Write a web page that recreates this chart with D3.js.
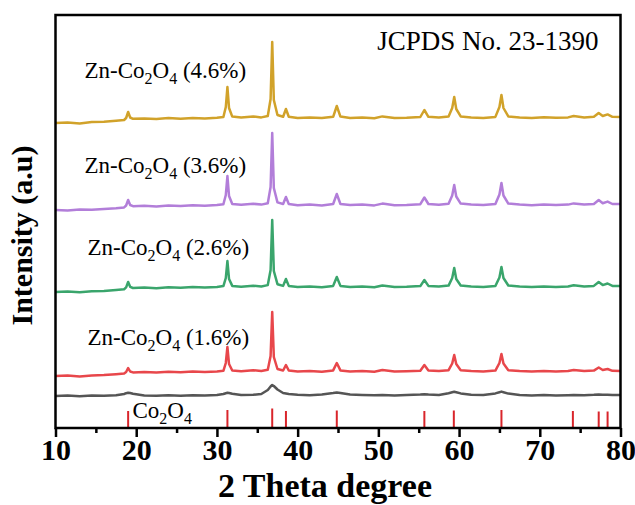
<!DOCTYPE html>
<html>
<head>
<meta charset="utf-8">
<script src="https://cdn.jsdelivr.net/npm/d3@7"></script>
<style>
body { margin: 0; background: #fff; }
svg { font-family: "Liberation Serif", "Times New Roman", serif; }
</style>
</head>
<body>
<svg width="635" height="505"></svg>
<script>
// shared 2-theta positions
var theta = [10, 11.5, 13, 14.5, 16, 17.5, 18.5, 18.75, 19.0, 19.25, 19.6, 21, 22.5, 24, 25.5, 27, 28.5, 30,
  30.8, 31.1, 31.3, 31.5, 31.9, 33, 34.5, 35.5, 36.3, 36.65, 36.85, 37.05, 37.5, 38.2, 38.55, 38.9,
  40, 41.5, 43, 44.4, 44.85, 45.3, 46.5, 48, 49.5, 50.5, 52, 53.5, 55.2, 55.7, 56.2, 57.5,
  58.7, 59.15, 59.4, 59.65, 60.2, 61.5, 63, 64.5, 65.0, 65.25, 65.5, 66.1, 67.5, 69, 70.5, 72, 73.5,
  74.2, 75.5, 76.7, 77.3, 77.8, 78.4, 79, 80];

// intensities (a.u.) relative to each pattern's own offset
var zn46 = [0, 0.6, -0.4, 0.9, 1.2, 2.2, 3, 5, 11, 5.5, 4.2, 4.6, 4, 4.9, 4.3, 5.1, 4.5, 5.3,
  6, 16, 36, 15, 6.4, 5.4, 6.6, 5.6, 7, 24, 81, 23, 8, 6.2, 14, 6.3,
  5, 5.6, 4.9, 6.2, 17, 6.4, 5.1, 5.6, 4.8, 6.6, 5, 5.3, 6, 13, 6.2, 5.6,
  6.6, 15, 26, 14, 6.6, 5.6, 5.1, 6.1, 16, 28, 15, 6.6, 5.6, 5, 5.7, 5.2, 5.6,
  7, 5.6, 6.2, 10, 7, 8.6, 6.2, 6];
var zn36 = [0, -0.5, 0.6, 0.2, 1.1, 1.8, 2.6, 4.5, 10, 5, 3.8, 4.3, 3.6, 4.5, 4.1, 4.8, 4.2, 5,
  5.8, 15, 34, 14, 6, 5.2, 6.2, 5.4, 6.8, 23, 77, 22, 7.6, 6, 13, 6,
  4.8, 5.4, 4.6, 6, 16, 6, 4.9, 5.4, 4.6, 6.4, 4.8, 5.1, 5.8, 12.5, 6, 5.3,
  6.3, 14.5, 25, 13.5, 6.4, 5.4, 4.9, 5.9, 15.5, 27, 14.5, 6.4, 5.4, 4.8, 5.5, 5, 5.4,
  6.6, 5.4, 6, 10, 6.8, 8.4, 6, 6];
var zn26 = [0, 0.5, -0.3, 0.7, 1, 2, 2.8, 4.6, 10, 5.2, 4, 4.4, 3.8, 4.7, 4.2, 4.9, 4.4, 5.1,
  5.9, 14, 31, 13, 6.1, 5.3, 6.3, 5.5, 6.9, 22, 72, 21, 7.8, 6.1, 13, 6.1,
  4.9, 5.5, 4.7, 6.1, 15, 6.1, 5, 5.5, 4.7, 6.5, 4.9, 5.2, 5.9, 12, 6.1, 5.4,
  6.4, 14, 24, 13, 6.5, 5.5, 5, 6, 14.5, 25, 14, 6.5, 5.5, 4.9, 5.6, 5.1, 5.5,
  6.8, 5.5, 6.1, 10, 6.9, 8.5, 6.1, 6];
var zn16 = [0, 0.4, -0.5, 0.6, 0.9, 1.8, 2.5, 4, 8, 4.5, 3.6, 4, 3.4, 4.2, 3.8, 4.5, 4, 4.6,
  5.2, 13, 29, 12, 5.5, 4.8, 5.8, 5, 6.2, 20, 64, 19, 7, 5.5, 11, 5.5,
  4.4, 5, 4.3, 5.6, 13, 5.6, 4.5, 5, 4.3, 5.9, 4.4, 4.7, 5.3, 11, 5.5, 4.9,
  5.8, 12.5, 21, 12, 5.8, 4.9, 4.5, 5.4, 13, 22, 12.5, 5.8, 4.9, 4.4, 5, 4.6, 4.9,
  6, 4.9, 5.4, 8.5, 6, 7, 5.2, 5];
var co3o4 = [0, 0.4, -0.3, 0.5, 0.2, 0.8, 2, 2.8, 3.2, 3, 2.2, 0.6, 0.2, 0.7, 0.3, 0.8, 0.5, 1,
  2, 2.8, 3.2, 3, 2.2, 1, 1.2, 2, 6, 9.5, 11, 10, 6.5, 3, 2.5, 2,
  1.2, 0.8, 1.4, 3, 3.6, 3, 1.5, 1, 0.7, 1.1, 0.6, 0.9, 1.5, 1.8, 1.4, 1,
  2.8, 3.8, 4.2, 3.8, 2.6, 1.2, 1, 2.6, 3.8, 4.4, 3.8, 2.4, 1, 0.6, 0.9, 0.5, 0.8,
  1, 0.7, 1.2, 1.6, 1.3, 1.2, 0.9, 1];

var seriesValues = [co3o4, zn16, zn26, zn36, zn46];
var offsets = [32, 52, 136, 218, 305];
var colors = ["#555555", "#e8474b", "#3aa56c", "#b27ed9", "#d1a22a"];
var labelText = ["(1.6%)", "(2.6%)", "(3.6%)", "(4.6%)"];

// JCPDS No. 23-1390 reference lines
var refPeaks = [19.0, 31.3, 36.85, 38.55, 44.85, 55.7, 59.35, 65.25, 74.1, 77.3, 78.4];
var refHeights = [17, 18, 19.5, 17, 17.5, 17, 17.5, 18, 17, 16.5, 16.5];

var xTicks = [10, 20, 30, 40, 50, 60, 70, 80];
var xMinor = [15, 25, 35, 45, 55, 65, 75];

var margin = { top: 15, right: 14.5, bottom: 77, left: 55.5 },
  width = 635 - margin.left - margin.right,
  height = 505 - margin.top - margin.bottom;

var svg = d3.select("svg")
  .append("g")
  .attr("transform", "translate(" + margin.left + "," + margin.top + ")");

var x = d3.scaleLinear().domain([10, 80]).range([0, width]);
var y = d3.scaleLinear().domain([0, height]).range([height, 0]);

// reference sticks
svg.selectAll(".ref")
  .data(refPeaks)
  .enter()
  .append("line")
  .attr("class", "ref")
  .attr("x1", function (d) { return x(d); })
  .attr("x2", function (d) { return x(d); })
  .attr("y1", y(0))
  .attr("y2", function (d, i) { return y(refHeights[i]); })
  .attr("stroke", "#d9252b")
  .attr("stroke-width", 2);

var line = d3.line()
  .x(function (d) { return x(d[0]); })
  .y(function (d) { return y(d[1]); });

seriesValues.forEach(function (vals, i) {
  var pts = theta.map(function (t, j) { return [t, vals[j] + offsets[i]]; });
  svg.append("path")
    .datum(pts)
    .attr("fill", "none")
    .attr("stroke", colors[i])
    .attr("stroke-width", 2.5)
    .attr("stroke-linejoin", "round")
    .attr("d", line);
});

// frame
svg.append("rect")
  .attr("width", width)
  .attr("height", height)
  .attr("fill", "none")
  .attr("stroke", "#000")
  .attr("stroke-width", 2.5);

var xAxis = d3.axisBottom(x).tickValues(xTicks).tickSize(9).tickPadding(2).tickFormat(d3.format("d"));
var gx = svg.append("g")
  .attr("transform", "translate(0," + height + ")")
  .call(xAxis);
gx.select(".domain").remove();
gx.selectAll("line").attr("stroke", "#000").attr("stroke-width", 2.5);
gx.selectAll("text")
  .attr("font-family", "Liberation Serif, serif")
  .attr("font-size", 30)
  .attr("font-weight", "bold")
  .attr("fill", "#000");

var gm = svg.append("g")
  .attr("transform", "translate(0," + height + ")")
  .call(d3.axisBottom(x).tickValues(xMinor).tickSize(5).tickFormat(""));
gm.select(".domain").remove();
gm.selectAll("line").attr("stroke", "#000").attr("stroke-width", 2.5);

// axis titles
svg.append("text")
  .attr("x", width / 2 - 13)
  .attr("y", height + 69)
  .attr("text-anchor", "middle")
  .attr("font-size", 34)
  .attr("font-weight", "bold")
  .text("2 Theta degree");

svg.append("text")
  .attr("transform", "translate(-24," + (height / 2 + 14) + ") rotate(-90)")
  .attr("text-anchor", "middle")
  .attr("font-size", 30)
  .attr("font-weight", "bold")
  .text("Intensity (a.u)");

// labels with sub-scripts
function coLabel(g, px, py, tail) {
  var t = g.append("text").attr("x", px).attr("y", py).attr("font-size", 23);
  t.append("tspan").text(tail === null ? "Co" : "Zn-Co");
  t.append("tspan").attr("dy", 6).attr("font-size", 16).text("2");
  t.append("tspan").attr("dy", -6).text("O");
  t.append("tspan").attr("dy", 6).attr("font-size", 16).text("4");
  if (tail !== null) t.append("tspan").attr("dy", -6).text(" " + tail);
}

var labelPos = [[32, 330], [32, 240], [29, 158], [29, 63]];
labelText.forEach(function (s, i) {
  coLabel(svg, labelPos[i][0], labelPos[i][1], s);
});
coLabel(svg, 77, 403, null);

svg.append("text")
  .attr("x", 543)
  .attr("y", 35)
  .attr("text-anchor", "end")
  .attr("font-size", 27)
  .text("JCPDS No. 23-1390");
</script>
</body>
</html>
